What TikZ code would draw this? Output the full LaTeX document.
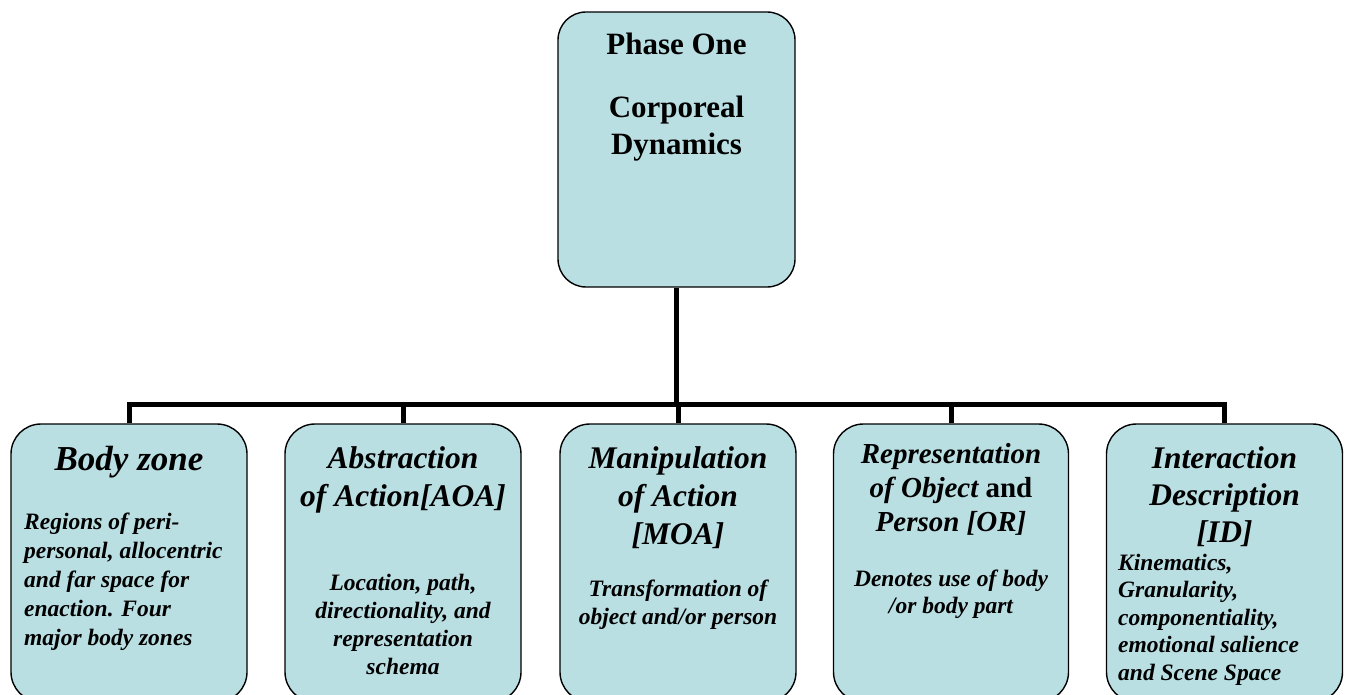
\documentclass[tikz,border=0pt]{standalone}
\usepackage{fontspec}
\setmainfont{Liberation Serif}
\begin{document}
\begin{tikzpicture}[x=1pt,y=-1pt,
  card/.style={draw=black, line width=1.4pt, fill=boxfill, rounded corners=30pt,
    minimum width=236pt, inner sep=0pt},
  conn/.style={draw=black, line width=5pt},
  % text nodes are placed by the baseline of their last line
  head/.style={anchor=base, inner sep=0pt, align=center,
    font=\fontsize{31.5}{38}\selectfont\bfseries\itshape},
  body/.style={anchor=base, inner sep=0pt, align=center,
    font=\fontsize{23.5}{28.5}\selectfont\bfseries\itshape},
]
\definecolor{boxfill}{HTML}{BADFE3}
\useasboundingbox (0,0) rectangle (1346,695);
\clip (0,0) rectangle (1346,695);

% root card
\node[card, minimum width=237pt, minimum height=275pt, rounded corners=28pt] (root) at (676.5,149.5) {};
\node[anchor=base, inner sep=0pt, align=center, font=\fontsize{31}{37}\selectfont\bfseries] (rootA) at (676.5,55) {Phase One};
\node[anchor=base, inner sep=0pt, align=center, font=\fontsize{31}{37}\selectfont\bfseries] (rootB) at (676.5,155) {Corporeal\\Dynamics};

% child cards
\node[card, minimum height=278pt] (c1) at (129,563) {};
\node[card, minimum height=278pt] (c2) at (403,563) {};
\node[card, minimum height=278pt] (c3) at (678,563) {};
\node[card, minimum height=278pt, minimum width=235pt] (c4) at (951,563) {};
\node[card, minimum height=278pt] (c5) at (1224.5,563) {};

% tree connectors
\coordinate (bar) at (676.5,404);
\draw[conn] (root.south) -- (bar);
\draw[conn] (c1.north) -- (c1.north |- bar) -- (c5.north |- bar) -- (c5.north);
\draw[conn] (c2.north) -- (c2.north |- bar);
\draw[conn] (c3.north) -- (c3.north |- bar);
\draw[conn] (c4.north) -- (c4.north |- bar);

% card 1
\node[head, font=\fontsize{35}{38}\selectfont\bfseries\itshape] (t1) at (129,470) {Body zone};
\node[body, anchor=base west, align=left, font=\fontsize{23.5}{29}\selectfont\bfseries\itshape] (s1) at (24,645) {Regions of peri-\\personal, allocentric\\and far space for\\enaction. Four\\major body zones};

% card 2
\node[head] (t2) at (403,506) {Abstraction\\of Action[AOA]};
\node[body, font=\fontsize{23.5}{28}\selectfont\bfseries\itshape] (s2) at (403,674) {Location, path,\\directionality, and\\representation\\schema};

% card 3
\node[head] (t3) at (678,544) {Manipulation\\of Action\\{[MOA]}};
\node[body, font=\fontsize{23.5}{28}\selectfont\bfseries\itshape] (s3) at (678,624) {Transformation of\\object and/or person};

% card 4
\node[head, font=\fontsize{29}{34}\selectfont\bfseries\itshape] (t4) at (951,531) {Representation\\of Object {\upshape and}\\Person [OR]};
\node[body, font=\fontsize{23.5}{27}\selectfont\bfseries\itshape] (s4) at (951,613) {Denotes use of body\\/or body part};

% card 5
\node[head, font=\fontsize{31.5}{37}\selectfont\bfseries\itshape] (t5) at (1224.5,542) {Interaction\\Description\\{[ID]}};
\node[body, anchor=base west, align=left, font=\fontsize{23.5}{27.5}\selectfont\bfseries\itshape] (s5) at (1118,680) {Kinematics,\\Granularity,\\componentiality,\\emotional salience\\and Scene Space};
\end{tikzpicture}
\end{document}
